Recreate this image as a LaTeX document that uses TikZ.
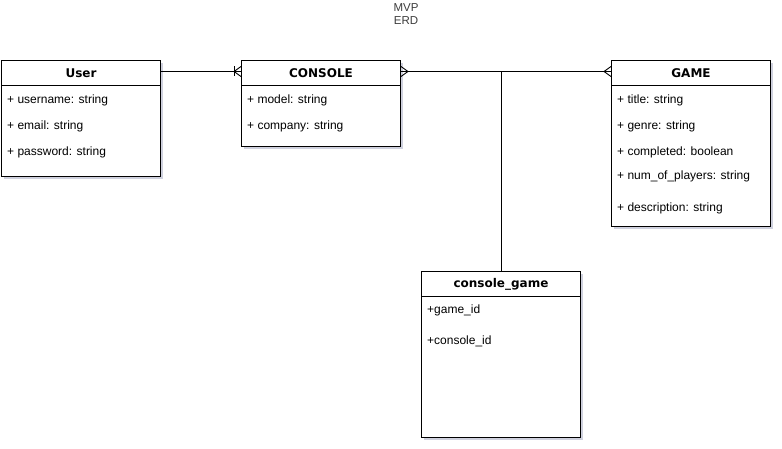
\documentclass[tikz,border=0pt]{standalone}
\usepackage{fontspec}
\setmainfont{Liberation Sans}
\newfontfamily\headfont{DejaVu Sans}
\usetikzlibrary{calc}
\usetikzlibrary{positioning}
\usetikzlibrary{shadows}
\definecolor{shadowgrey}{RGB}{175,178,200}
\definecolor{titlegrey}{RGB}{60,60,60}
\newcommand{\widthentity}{159}
\newcommand{\heighthead}{25}
\tikzset{
    entity/.style={draw, line width=1pt, fill=white, anchor=north west, inner sep=0pt,
        minimum width=\widthentity,
        drop shadow={shadow xshift=2.5pt, shadow yshift=-2.5pt, fill=shadowgrey, opacity=0.6}},
    head/.style={draw, line width=1pt, anchor=north, inner sep=0pt,
        minimum width=\widthentity, minimum height=\heighthead,
        font=\headfont\bfseries\fontsize{12}{14}\selectfont},
    field/.style={anchor=west, inner sep=0pt, font=\fontsize{12}{14}\selectfont},
    link/.style={line width=0.9pt},
    foot/.style={line width=0.9pt}
}
\begin{document}
\begin{tikzpicture}[x=1pt, y=-1pt]
    \useasboundingbox (0,0) rectangle (782,449);

    \node[font=\fontsize{11.5}{13}\selectfont, text=titlegrey, align=center] (title) at (406,14.5) {MVP\\ERD};

    % entities
    \node[entity, minimum height=116] (user) at (1,60) {};
    \node[head] (userHead) at (user.north) {User};
    \node[field] (userF1) at ($(user.north west)+(6,40.5)$) {+ username: string};
    \node[field] (userF2) at ($(user.north west)+(6,66.5)$) {+ email: string};
    \node[field] (userF3) at ($(user.north west)+(6,92.5)$) {+ password: string};

    \node[entity, minimum height=86] (console) at (241,60) {};
    \node[head] (consoleHead) at (console.north) {CONSOLE};
    \node[field] (consoleF1) at ($(console.north west)+(6,40.5)$) {+ model: string};
    \node[field] (consoleF2) at ($(console.north west)+(6,66.5)$) {+ company: string};

    \node[entity, minimum height=166] (game) at (611,60) {};
    \node[head] (gameHead) at (game.north) {GAME};
    \node[field] (gameF1) at ($(game.north west)+(6,40.5)$) {+ title: string};
    \node[field] (gameF2) at ($(game.north west)+(6,66.5)$) {+ genre: string};
    \node[field] (gameF3) at ($(game.north west)+(6,92.5)$) {+ completed: boolean};
    \node[field] (gameF4) at ($(game.north west)+(6,116.5)$) {+ num\_of\_players: string};
    \node[field] (gameF5) at ($(game.north west)+(6,148.5)$) {+ description: string};

    \node[entity, minimum height=166] (cg) at (421,271) {};
    \node[head] (cgHead) at (cg.north) {console\_game};
    \node[field] (cgF1) at ($(cg.north west)+(6,39.5)$) {+game\_id};
    \node[field] (cgF2) at ($(cg.north west)+(6,70.5)$) {+console\_id};

    % relations
    \coordinate (userR) at ($(userHead.east)+(0,-1.5)$);
    \coordinate (consoleL) at ($(consoleHead.west)+(0,-1.5)$);
    \coordinate (consoleR) at ($(consoleHead.east)+(0,-1.5)$);
    \coordinate (gameL) at ($(gameHead.west)+(0,-1.5)$);
    \coordinate (joint) at (cg.north |- consoleR);

    \draw[link] (userR) -- (consoleL);
    \draw[link] (consoleR) -- (gameL);
    \draw[link] (joint) -- (cgHead.north);

    % crow's feet
    \draw[foot] (consoleL) ++(-7,0) -- ++(7,-5) ++(-7,5) -- ++(7,5);
    \draw[foot] (consoleL) ++(-7,-5) -- ++(0,10);
    \draw[foot] (consoleR) ++(7,0) -- ++(-7,-5) ++(7,5) -- ++(-7,5);
    \draw[foot] (gameL) ++(-7,0) -- ++(7,-5) ++(-7,5) -- ++(7,5);
\end{tikzpicture}
\end{document}
